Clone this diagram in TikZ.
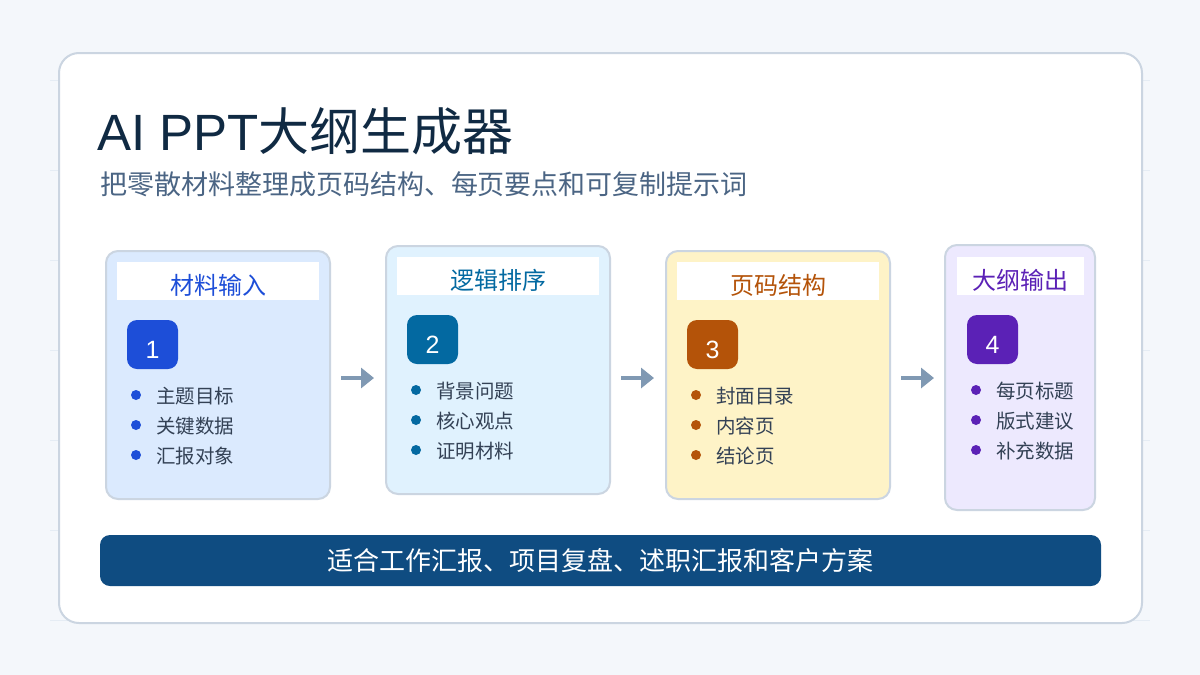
\documentclass[tikz,border=0pt]{standalone}
\usepackage{fontspec}
\setmainfont{Liberation Sans}
\newfontfamily\cjk{Noto Sans CJK SC}
\usetikzlibrary{arrows.meta, positioning, calc}
\definecolor{cbg}{HTML}{F4F7FB}
\definecolor{cgrid}{HTML}{E5ECF4}
\definecolor{cedge}{HTML}{CBD5E1}
\definecolor{ctitle}{HTML}{102A43}
\definecolor{csub}{HTML}{4B6584}
\definecolor{ctext}{HTML}{334155}
\definecolor{carrow}{HTML}{8099B3}
\definecolor{cbar}{HTML}{0F4C81}
\definecolor{cblue}{HTML}{1D4ED8}
\definecolor{csky}{HTML}{0369A1}
\definecolor{camber}{HTML}{B45309}
\definecolor{cviolet}{HTML}{5B21B6}
\definecolor{fblue}{HTML}{DBEAFE}
\definecolor{fsky}{HTML}{E0F2FE}
\definecolor{famber}{HTML}{FEF3C7}
\definecolor{fviolet}{HTML}{EDE9FE}
\tikzset{
  every picture/.style={line width=2pt},
  stage/.style={draw=cedge, fill=#1, rounded corners=12pt, minimum width=224pt, minimum height=248pt, inner sep=0pt},
  headbox/.style={fill=white, minimum width=202pt, minimum height=38pt, inner sep=0pt, anchor=north},
  headtext/.style={font=\cjk\fontsize{24}{28}\selectfont, text=#1, inner sep=0pt},
  badge/.style={fill=#1, rounded corners=10pt, minimum width=51pt, minimum height=49pt, inner sep=0pt, anchor=north west},
  num/.style={font=\fontsize{25}{30}\selectfont, text=white, inner sep=0pt},
  dot/.style={circle, fill=#1, minimum size=10pt, inner sep=0pt},
  item/.style={font=\cjk\fontsize{19.5}{24}\selectfont, text=ctext, inner sep=0pt, anchor=west},
  flow/.style={-{Triangle[length=13pt, width=20pt]}, draw=carrow, line width=4.5pt, shorten <=10pt, shorten >=11pt},
}

\begin{document}
\begin{tikzpicture}[x=1pt, y=-1pt]
  % page and faint rules
  \fill[cbg] (0,0) rectangle (1200,675);
  \foreach \y in {80,170,...,620}
    \draw[cgrid, line width=1pt] (50,\y) -- (1150,\y);
  \draw[cedge, fill=white, rounded corners=20pt] (59,53) rectangle (1142,623);

  % headings
  \node[font=\fontsize{51}{60}\selectfont, text=ctitle, anchor=base west, inner sep=0pt] (title) at (96,150) {AI PPT{\cjk 大纲生成器}};
  \node[font=\cjk\fontsize{27}{32}\selectfont, text=csub, anchor=base west, inner sep=0pt] (sub) at (99,194) {把零散材料整理成页码结构、每页要点和可复制提示词};

  % stage 1
  \node[stage=fblue] (s1) at (218,375) {};
  \node[headbox] (h1) at ($(s1.north)+(0,11)$) {};
  \node[headtext=cblue] (t1) at ($(h1.center)+(0,4)$) {材料输入};
  \node[badge=cblue] (b1) at ($(s1.north west)+(21,69)$) {};
  \node[num] (n1) at ($(b1.center)+(0,5)$) {1};
  \foreach \t [count=\i] in {主题目标,关键数据,汇报对象} {
    \node[dot=cblue] (d1\i) at ($(s1.north west)+(31,115+30*\i)$) {};
    \node[item] (i1\i) at ($(d1\i)+(19,1)$) {\t};
  }

  % stage 2
  \node[stage=fsky] (s2) at (498,370) {};
  \node[headbox] (h2) at ($(s2.north)+(0,11)$) {};
  \node[headtext=csky] (t2) at ($(h2.center)+(0,4)$) {逻辑排序};
  \node[badge=csky] (b2) at ($(s2.north west)+(21,69)$) {};
  \node[num] (n2) at ($(b2.center)+(0,5)$) {2};
  \foreach \t [count=\i] in {背景问题,核心观点,证明材料} {
    \node[dot=csky] (d2\i) at ($(s2.north west)+(31,115+30*\i)$) {};
    \node[item] (i2\i) at ($(d2\i)+(19,1)$) {\t};
  }

  % stage 3
  \node[stage=famber] (s3) at (778,375) {};
  \node[headbox] (h3) at ($(s3.north)+(0,11)$) {};
  \node[headtext=camber] (t3) at ($(h3.center)+(0,4)$) {页码结构};
  \node[badge=camber] (b3) at ($(s3.north west)+(21,69)$) {};
  \node[num] (n3) at ($(b3.center)+(0,5)$) {3};
  \foreach \t [count=\i] in {封面目录,内容页,结论页} {
    \node[dot=camber] (d3\i) at ($(s3.north west)+(31,115+30*\i)$) {};
    \node[item] (i3\i) at ($(d3\i)+(19,1)$) {\t};
  }

  % stage 4 (narrower)
  \node[stage=fviolet, minimum width=150pt, minimum height=265pt] (s4) at (1020,377.5) {};
  \node[headbox, minimum width=127pt] (h4) at ($(s4.north)+(0,12)$) {};
  \node[headtext=cviolet] (t4) at ($(h4.center)+(0,4)$) {大纲输出};
  \node[badge=cviolet] (b4) at ($(s4.north west)+(22,70)$) {};
  \node[num] (n4) at ($(b4.center)+(0,5)$) {4};
  \foreach \t [count=\i] in {每页标题,版式建议,补充数据} {
    \node[dot=cviolet] (d4\i) at ($(s4.north west)+(32,116+30*\i)$) {};
    \node[item] (i4\i) at ($(d4\i)+(19,1)$) {\t};
  }

  % arrows between stages
  \draw[flow] (s1.east |- 0,378) -- (s2.west |- 0,378);
  \draw[flow] (s2.east |- 0,378) -- (s3.west |- 0,378);
  \draw[flow, shorten >=10pt] (s3.east |- 0,378) -- (s4.west |- 0,378);

  % use cases
  \node[fill=cbar, rounded corners=10pt, minimum width=1001pt, minimum height=51pt, inner sep=0pt,
        text=white, font=\cjk\fontsize{26}{30}\selectfont] (bar) at (600.5,560.5) {适合工作汇报、项目复盘、述职汇报和客户方案};
\end{tikzpicture}
\end{document}
